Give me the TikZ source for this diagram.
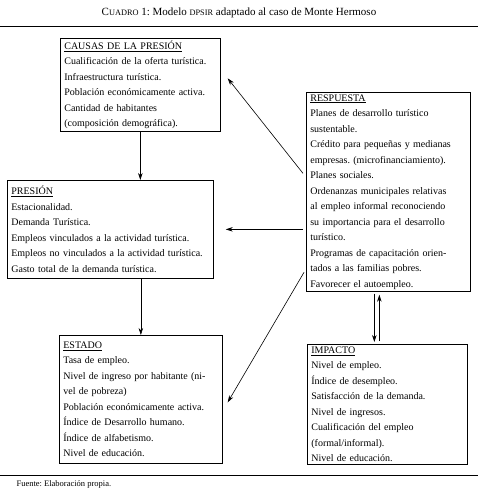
\documentclass[tikz,border=0pt]{standalone}
\usepackage{fontspec}
\setmainfont{Liberation Serif}
\usetikzlibrary{arrows.meta}
\tikzset{
  caja/.style={draw, line width=0.7pt, anchor=north west, align=left, inner xsep=4pt, inner ysep=0pt, font=\fontsize{10}{15.5}\selectfont},
  flecha/.style={-{Stealth[length=7pt,width=4.5pt]}, line width=0.6pt}
}
\newcommand{\pcap}[1]{{\fontsize{8.3}{10}\selectfont #1}}
\frenchspacing
\begin{document}
\begin{tikzpicture}[x=1pt,y=-1pt]
\useasboundingbox (0,0) rectangle (478,493);
\node[font=\fontsize{11}{13}\selectfont] (titulo) at (239,13) {C\pcap{UADRO} 1: Modelo \pcap{DPSIR} adaptado al caso de Monte Hermoso};
\draw (0,26) -- (478,26);
\draw (0,475) -- (478,475);
\node[anchor=west, font=\fontsize{8.5}{10}\selectfont] (fuente) at (13,484) {Fuente: Elaboración propia.};

\node[caja, text width=152pt, minimum height=93pt] (causas) at (60,38) {\underline{CAUSAS DE LA PRESIÓN}\\
Cualificación de la oferta turística.\\
Infraestructura turística.\\
Población económicamente activa.\\
Cantidad de habitantes\\
(composición demográfica).};
\node[caja, text width=156pt, minimum height=199pt] (resp) at (306,92) {\underline{RESPUESTA}\\
Planes de desarrollo turístico\\
sustentable.\\
Crédito para pequeñas y medianas\\
empresas. (microfinanciamiento).\\
Planes sociales.\\
Ordenanzas municipales relativas\\
al empleo informal reconociendo\\
su importancia para el desarrollo\\
turístico.\\
Programas de capacitación orien-\\
tados a las familias pobres.\\
Favorecer el autoempleo.};
\node[caja, text width=198pt, minimum height=98pt] (pres) at (7,180) {\underline{PRESIÓN}\\
Estacionalidad.\\
Demanda Turística.\\
Empleos vinculados a la actividad turística.\\
Empleos no vinculados a la actividad turística.\\
Gasto total de la demanda turística.};
\node[caja, text width=155pt, minimum height=128pt] (estado) at (59,335) {\underline{ESTADO}\\
Tasa de empleo.\\
Nivel de ingreso por habitante (ni-\\
vel de pobreza)\\
Población económicamente activa.\\
Índice de Desarrollo humano.\\
Índice de alfabetismo.\\
Nivel de educación.};
\node[caja, text width=152pt, minimum height=120pt] (impacto) at (307,344) {\underline{IMPACTO}\\
Nivel de empleo.\\
Índice de desempleo.\\
Satisfacción de la demanda.\\
Nivel de ingresos.\\
Cualificación del empleo\\
(formal/informal).\\
Nivel de educación.};

\coordinate (bajada) at ([xshift=-14pt,yshift=-2pt]resp.south);
\coordinate (subida) at ([xshift=-8pt,yshift=3pt]impacto.north);
\draw[flecha] (causas.south) -- (causas.south |- pres.north);
\draw[flecha] (estado.north |- pres.south) -- (estado.north);
\draw[flecha] ([xshift=-3pt,yshift=18.5pt]resp.west) -- ([xshift=7pt,yshift=6.5pt]causas.east);
\draw[flecha] ([xshift=-3pt,yshift=-37.5pt]resp.west) -- ([xshift=12pt]pres.east);
\draw[flecha] ([xshift=-2pt,yshift=-80.5pt]resp.west) -- ([xshift=5pt,yshift=-3pt]estado.east);
\draw[flecha] (bajada) -- ([yshift=2pt]bajada |- impacto.north);
\draw[flecha] (subida) -- ([yshift=-3pt]subida |- resp.south);
\end{tikzpicture}
\end{document}
